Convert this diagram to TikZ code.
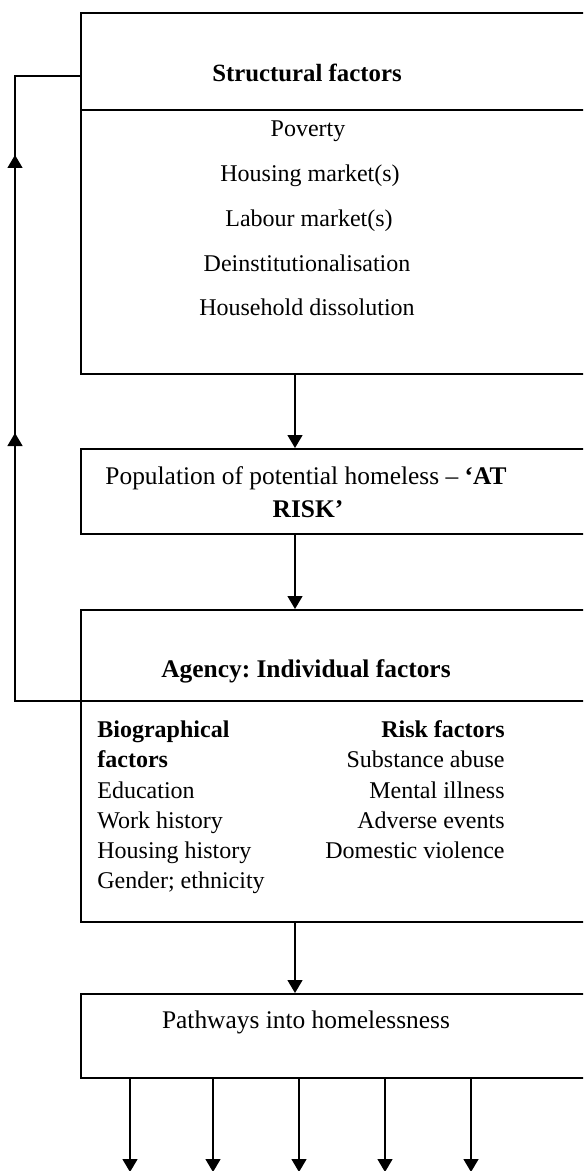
\documentclass[tikz,border=0pt]{standalone}
\usepackage{fontspec}
\setmainfont{Liberation Serif}
\usetikzlibrary{arrows.meta}
\frenchspacing
\begin{document}
\begin{tikzpicture}[x=0.5pt,y=-0.5pt,
  box/.style={draw, line width=0.8pt, rectangle, anchor=north west, inner sep=0pt, minimum width=280pt},
  arr/.style={line width=0.7pt, -{Triangle[width=7.5pt,length=6.5pt]}},
  ln/.style={line width=0.8pt},
  txt/.style={font=\fontsize{12}{14}\selectfont, inner sep=0pt, anchor=base},
  big/.style={txt, font=\fontsize{12.7}{14}\selectfont},
  lt/.style={txt, anchor=base west},
  rt/.style={txt, anchor=base east}]
\useasboundingbox (0,0) rectangle (583,1171);
\clip (0,0) rectangle (583,1171);
% boxes
\node[box, minimum height=180.25pt] (sf) at (80,12.5) {};
\node[box, minimum height=42.5pt] (pop) at (80,448) {};
\node[box, minimum height=156pt] (ag) at (80,609) {};
\node[box, minimum height=42pt] (pw) at (80,993) {};
% helper coordinates
\coordinate (d1) at (0,110);
\coordinate (fbtop) at (15,76);
\coordinate (fbbot) at (15,701);
\coordinate (h1) at (15,155);
\coordinate (h2) at (15,433);
\coordinate (ax) at (295,0);
% divider in structural box
\draw[ln] (sf.west |- d1) -- (sf.east |- d1);
% feedback loop / agency divider
\draw[ln] (ag.east |- fbbot) -- (fbbot) -- (fbtop) -- (sf.west |- fbtop);
\draw[arr] (fbbot) -- (h2);
\draw[arr] (fbbot) -- (h1);
% vertical arrows
\draw[arr] (sf.south -| ax) -- (pop.north -| ax);
\draw[arr] (pop.south -| ax) -- (ag.north -| ax);
\draw[arr] (ag.south -| ax) -- (pw.north -| ax);
% bottom arrows
\foreach \i/\x in {1/130,2/213,3/299,4/385,5/471}{
  \coordinate (p\i) at (\x,1172);
  \draw[arr] (pw.south -| p\i) -- (p\i);
}
% texts
\node[txt, font=\fontsize{12.4}{14}\selectfont] (sft) at (307,82) {\bfseries Structural factors};
\node[txt] (s1) at (308,137) {Poverty};
\node[txt] (s2) at (310,182) {Housing market(s)};
\node[txt] (s3) at (309,227) {Labour market(s)};
\node[txt] (s4) at (307,272) {Deinstitutionalisation};
\node[txt] (s5) at (307,316) {Household dissolution};
\node[big] (pt1) at (306,484) {Population of potential homeless – \textbf{‘AT}};
\node[big] (pt2) at (308,517) {\textbf{RISK’}};
\node[big] (agt) at (306,677) {\bfseries Agency: Individual factors};
\node[lt] (b0) at (97,737) {\bfseries Biographical};
\node[lt] (b1) at (97,767) {\bfseries factors};
\node[lt] (b2) at (97,798) {Education};
\node[lt] (b3) at (97,828) {Work history};
\node[lt] (b4) at (97,858) {Housing history};
\node[lt] (b5) at (97,888) {Gender; ethnicity};
\node[rt] (r0) at (505,737) {\bfseries Risk factors};
\node[rt] (r1) at (505,767) {Substance abuse};
\node[rt] (r2) at (505,798) {Mental illness};
\node[rt] (r3) at (505,828) {Adverse events};
\node[rt] (r4) at (505,858) {Domestic violence};
\node[big] (pwt) at (306,1028) {Pathways into homelessness};
\end{tikzpicture}
\end{document}
